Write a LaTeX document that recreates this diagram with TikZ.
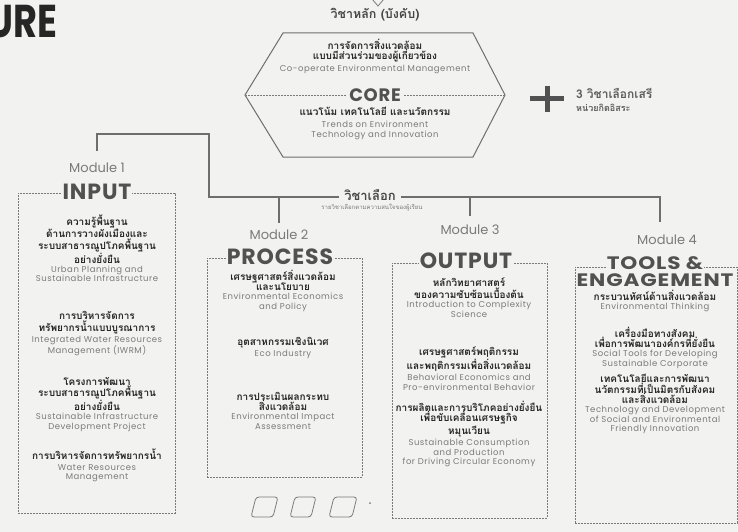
\documentclass[tikz,border=0pt]{standalone}
\usepackage{fontspec}
\setmainfont{Poppins}
\newfontfamily\thaifont[Script=Thai]{Loma}
\newfontfamily\latfont[LetterSpace=6]{Poppins}
\newfontfamily\titlefont[LetterSpace=4]{Poppins}
\usetikzlibrary{positioning}

\definecolor{paper}{HTML}{F2F2F0}
\definecolor{ink}{HTML}{262626}
\definecolor{soft}{HTML}{7A7A7A}
\definecolor{wire}{HTML}{6E6E6E}

\tikzset{
  conn/.style={draw=wire, line width=1.3pt},
  modbox/.style={draw=soft, line width=0.6pt, dash pattern=on 2pt off 1pt},
  modlabel/.style={font=\fontsize{13}{15}\selectfont, text=soft},
  modtitle/.style={font=\titlefont\bfseries\fontsize{22}{22}\selectfont, text=ink!80, fill=paper, inner sep=1pt},
  widetitle/.style={font=\titlefont\bfseries\fontsize{18}{18}\selectfont, text=ink!80, inner sep=1pt},
  thcourse/.style={anchor=north, align=center, inner sep=0pt, font=\thaifont\bfseries\fontsize{10}{10.5}\selectfont, text=ink},
  encourse/.style={align=center, inner sep=0pt, font=\latfont\fontsize{8.5}{9.6}\selectfont, text=soft},
}

\begin{document}
\begin{tikzpicture}[x=1pt, y=-1pt]
  \fill[paper] (0,0) rectangle (738,532);
  \useasboundingbox (0,0) rectangle (738,532);

  % 标题残字
  \node[anchor=east, font=\fontsize{46}{46}\selectfont\bfseries, text=ink, inner sep=0pt] (head) at (58,22) {\scalebox{0.8}[1]{URE}};

  % 顶部小箭头
  \draw[soft, line width=0.8pt] (372,-1) -- (378,6) -- (384,-1);

  % 核心课程 (六边形)
  \node[font=\thaifont\bfseries\fontsize{12.5}{13}\selectfont, text=ink!85] (corecap) at (375,15) {วิชาหลัก (บังคับ)};
  \coordinate (hA) at (283,33);
  \coordinate (hB) at (473,33);
  \coordinate (hR) at (505,95);
  \coordinate (hC) at (473,157);
  \coordinate (hD) at (283,157);
  \coordinate (hL) at (245,95);
  \draw[wire, line width=1pt] (hA) -- (hB) -- (hR) -- (hC) -- (hD) -- (hL) -- cycle;
  \draw[soft, line width=0.6pt, dash pattern=on 2pt off 1pt] (hL) -- (hR);
  \node[fill=paper, inner sep=2pt, font=\titlefont\bfseries\fontsize{18}{18}\selectfont, text=ink!80] (core) at (375,95) {CORE};
  \node[thcourse] (coreup) at (375,39) {การจัดการสิ่งแวดล้อม\\แบบมีส่วนร่วมของผู้เกี่ยวข้อง};
  \node[encourse, below=2pt of coreup] (coreupen) {Co-operate Environmental Management};
  \node[thcourse] (corelow) at (375,107) {แนวโน้ม เทคโนโลยี และนวัตกรรม};
  \node[encourse, below=5pt of corelow] (corelowen) {Trends on Environment\\Technology and Innovation};

  % 加号与说明
  \draw[ink!80, line width=5pt] (530,99) -- (564,99);
  \draw[ink!80, line width=5pt] (547,86) -- (547,112);
  \node[anchor=west, inner sep=0pt, text=ink!75, font=\thaifont\bfseries\fontsize{12}{13}\selectfont] (free) at (576,93) {3 วิชาเลือกเสรี};
  \node[anchor=west, inner sep=0pt, text=ink!75, font=\thaifont\bfseries\fontsize{9}{10}\selectfont] (freesub) at (576,108) {หน่วยกิตอิสระ};

  % 选修课程
  \node[inner xsep=5pt, inner ysep=0pt, font=\thaifont\bfseries\fontsize{13}{14}\selectfont, text=ink!85] (elec) at (370,195) {วิชาเลือก};
  \node[inner sep=0pt, font=\thaifont\fontsize{6}{7}\selectfont, text=soft] (elecsub) at (372,208) {รายวิชาเลือกตามความสนใจของผู้เรียน};

  % 模块标签
  \node[modlabel] (m1lab) at (97,168) {Module 1};
  \node[modlabel] (m2lab) at (279,235) {Module 2};
  \node[modlabel] (m3lab) at (470,230) {Module 3};
  \node[modlabel] (m4lab) at (667,240) {Module 4};

  % 连线
  \coordinate (j0) at (209,134);
  \coordinate (j1) at (209,197);
  \coordinate (j2) at (279,197);
  \coordinate (j3) at (470,197);
  \coordinate (j4) at (660,197);
  \draw[conn, shorten >=9pt] (elec.west |- j1) -- (j1) -- (j0) -| (m1lab.north);
  \draw[conn, shorten >=10pt] (elec.east |- j4) -- (j4) -- (j4 |- m4lab.north);
  \draw[conn, shorten >=4pt] (j2) -- (j2 |- m2lab.north);
  \draw[conn, shorten >=6pt] (j3) -- (j3 |- m3lab.north);

  % 模块框
  \node[modbox, minimum width=157pt, minimum height=320pt] (m1box) at (96.5,353) {};
  \node[modbox, minimum width=155pt, minimum height=219pt] (m2box) at (284.5,367.5) {};
  \node[modbox, minimum width=155pt, minimum height=255pt] (m3box) at (469.5,390.5) {};
  \node[modbox, minimum width=162pt, minimum height=256pt] (m4box) at (656,395) {};
  \node[modtitle] (m1title) at (97,192) {INPUT};
  \node[modtitle] (m2title) at (280,257) {PROCESS};
  \node[modtitle] (m3title) at (466,261) {OUTPUT};
  \node[widetitle, fill=paper] (m4title) at (655,263) {\scalebox{1.2}[1]{TOOLS \&}};
  \node[widetitle] (m4title2) at (655,280) {\scalebox{1.2}[1]{ENGAGEMENT}};

  % Module 1
  \node[thcourse] (m1a) at (97,215) {ความรู้พื้นฐาน\\ด้านการวางผังเมืองและ\\ระบบสาธารณูปโภคพื้นฐาน\\อย่างยั่งยืน};
  \node[encourse, below=2pt of m1a] (m1aen) {Urban Planning and\\Sustainable Infrastructure};
  \node[thcourse] (m1b) at (97,311) {การบริหารจัดการ\\ทรัพยากรน้ำแบบบูรณาการ};
  \node[encourse, below=2pt of m1b] (m1ben) {Integrated Water Resources\\Management (IWRM)};
  \node[thcourse] (m1c) at (97,377) {โครงการพัฒนา\\ระบบสาธารณูปโภคพื้นฐาน\\อย่างยั่งยืน};
  \node[encourse, below=2pt of m1c] (m1cen) {Sustainable Infrastructure\\Development Project};
  \node[thcourse] (m1d) at (97,449) {การบริหารจัดการทรัพยากรน้ำ};
  \node[encourse, below=4pt of m1d] (m1den) {Water Resources\\Management};

  % Module 2
  \node[thcourse] (m2a) at (283,270) {เศรษฐศาสตร์สิ่งแวดล้อม\\และนโยบาย};
  \node[encourse, below=2pt of m2a] (m2aen) {Environmental Economics\\and Policy};
  \node[thcourse] (m2b) at (283,337) {อุตสาหกรรมเชิงนิเวศ};
  \node[encourse, below=2pt of m2b] (m2ben) {Eco Industry};
  \node[thcourse] (m2c) at (283,392) {การประเมินผลกระทบ\\สิ่งแวดล้อม};
  \node[encourse, below=2pt of m2c] (m2cen) {Environmental Impact\\Assessment};

  % Module 3
  \node[thcourse] (m3a) at (469,278) {หลักวิทยาศาสตร์\\ของความซับซ้อนเบื้องต้น};
  \node[encourse, below=2pt of m3a] (m3aen) {Introduction to Complexity\\Science};
  \node[thcourse] (m3b) at (469,347) {เศรษฐศาสตร์พฤติกรรม\\และพฤติกรรมเพื่อสิ่งแวดล้อม};
  \node[encourse, below=2pt of m3b] (m3ben) {Behavioral Economics and\\Pro-environmental Behavior};
  \node[thcourse] (m3c) at (469,401) {การผลิตและการบริโภคอย่างยั่งยืน\\เพื่อขับเคลื่อนเศรษฐกิจ\\หมุนเวียน};
  \node[encourse, below=2pt of m3c] (m3cen) {Sustainable Consumption\\and Production\\for Driving Circular Economy};

  % Module 4
  \node[thcourse] (m4a) at (655,290) {กระบวนทัศน์ด้านสิ่งแวดล้อม};
  \node[encourse, below=2pt of m4a] (m4aen) {Environmental Thinking};
  \node[thcourse] (m4b) at (655,327) {เครื่องมือทางสังคม\\เพื่อการพัฒนาองค์กรที่ยั่งยืน};
  \node[encourse, below=2pt of m4b] (m4ben) {Social Tools for Developing\\Sustainable Corporate};
  \node[thcourse] (m4c) at (655,374) {เทคโนโลยีและการพัฒนา\\นวัตกรรมที่เป็นมิตรกับสังคม\\และสิ่งแวดล้อม};
  \node[encourse, below=2pt of m4c] (m4cen) {Technology and Development\\of Social and Environmental\\Friendly Innovation};

  % 底部小方块
  \draw[soft, line width=0.8pt, rounded corners=3pt] (251,517) -- (256,497) -- (278,497) -- (273,517) -- cycle;
  \draw[soft, line width=0.8pt, rounded corners=3pt] (290,517) -- (295,497) -- (316,497) -- (311,517) -- cycle;
  \draw[soft, line width=0.8pt, rounded corners=3pt] (329,517) -- (334,497) -- (357,497) -- (352,517) -- cycle;
  \fill[soft] (370,503) circle (1pt);
\end{tikzpicture}
\end{document}
